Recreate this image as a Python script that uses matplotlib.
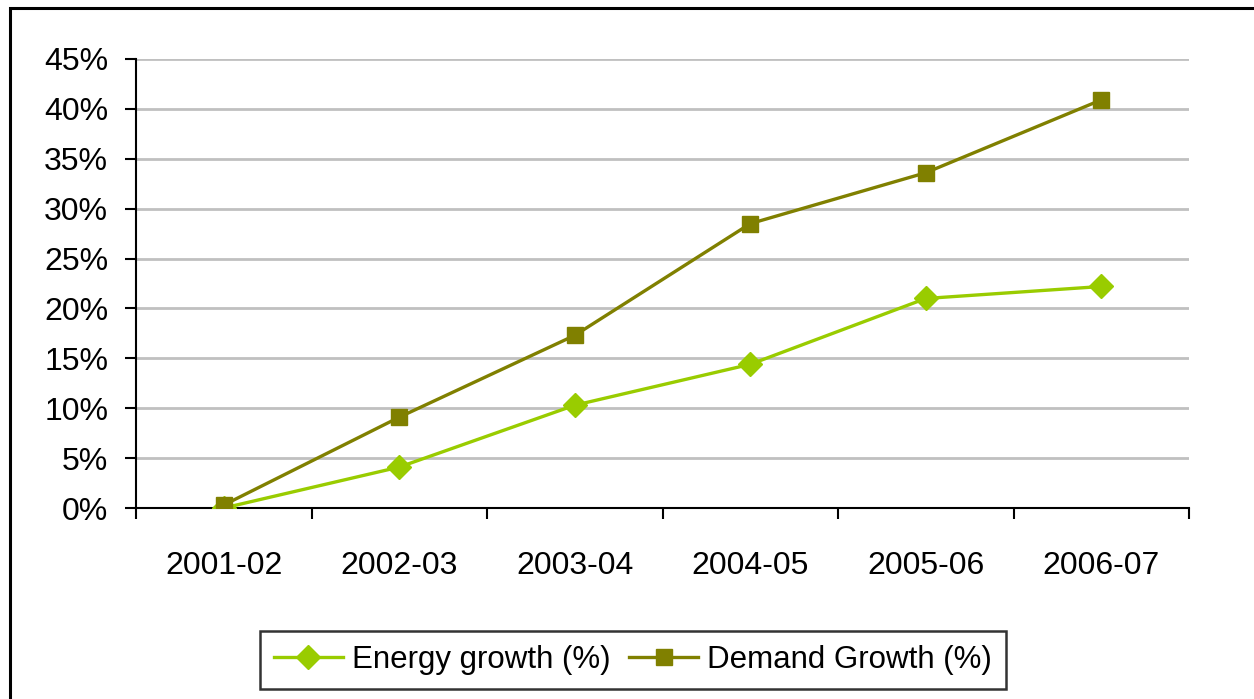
import numpy as np
import matplotlib.pyplot as plt
from matplotlib.patches import Rectangle
from matplotlib.ticker import FixedLocator, FuncFormatter

plt.rcParams['font.family'] = ['Liberation Sans', 'DejaVu Sans']

# data
years = ['2001-02', '2002-03', '2003-04', '2004-05', '2005-06', '2006-07']
energy = [0.0, 4.1, 10.3, 14.4, 21.0, 22.2]
demand = [0.3, 9.1, 17.3, 28.5, 33.6, 40.9]

fig = plt.figure(figsize=(12.54, 6.99), dpi=100)
# outer chart border (runs off the right / bottom edge like the original)
fig.patches.append(Rectangle((10/1254, -0.05), 1.2, 1 - 8/699 + 0.05,
                             transform=fig.transFigure, fill=False,
                             edgecolor='black', linewidth=2.2))

ax = fig.add_axes([136/1254, 1 - 508/699, (1189-136)/1254, (508-59)/699])
x = np.arange(len(years))
ax.plot(x, energy, color='#99CC00', lw=2.4, marker='D', ms=12,
        label='Energy growth (%)', zorder=3)
ax.plot(x, demand, color='#808000', lw=2.4, marker='s', ms=11.5,
        label='Demand Growth (%)', zorder=3)

ax.set_xlim(-0.5, len(years) - 0.5)
ax.set_ylim(0, 45)
ax.set_yticks(np.arange(0, 46, 5))
ax.yaxis.set_major_formatter(FuncFormatter(lambda v, p: '%d%%' % v))
ax.xaxis.set_major_locator(FixedLocator(np.arange(-0.5, len(years), 1)))
ax.xaxis.set_major_formatter(FuncFormatter(lambda v, p: ''))
ax.set_xticks(x, minor=True)
ax.set_xticklabels(years, minor=True)
ax.tick_params(axis='x', which='minor', length=0, pad=31, labelsize=23)
ax.tick_params(axis='x', which='major', length=8, width=1.5, direction='out')
ax.tick_params(axis='y', length=8, width=1.5, direction='out', labelsize=23, pad=12)

ax.grid(axis='y', color='#C0C0C0', lw=2)
ax.set_axisbelow(True)
for s in ['top', 'right']:
    ax.spines[s].set_visible(False)
ax.spines['left'].set_linewidth(1.5)
ax.spines['bottom'].set_linewidth(1.5)

leg = fig.legend(loc='center', bbox_to_anchor=(633/1254, 1 - 660/699), ncol=2,
                 fontsize=22.5, frameon=True, fancybox=False, edgecolor='black',
                 handlelength=2.2, columnspacing=0.6, handletextpad=0.3,
                 borderpad=0.45, borderaxespad=0)
leg.get_frame().set_linewidth(1.8)

fig.savefig('out.png', dpi=100)
